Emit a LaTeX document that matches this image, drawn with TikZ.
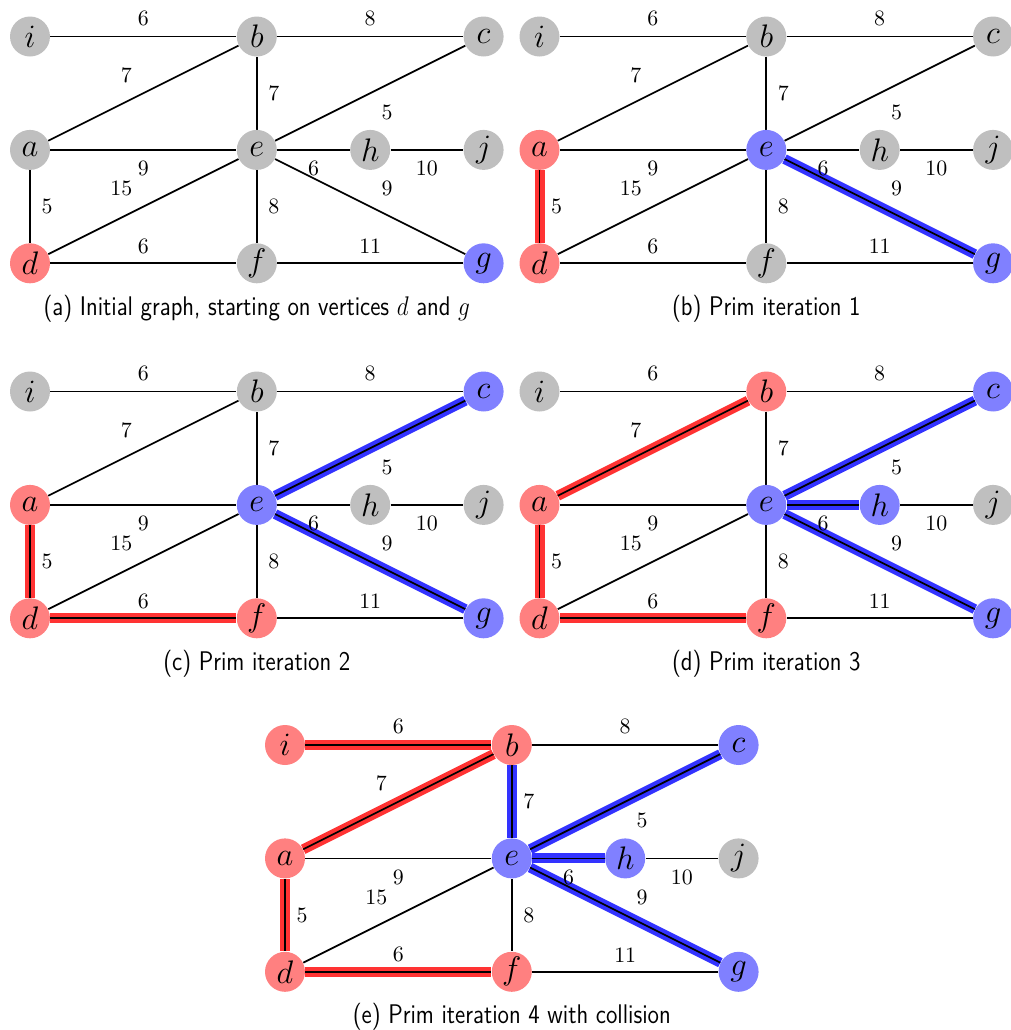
\RequirePackage{fix-cm}
\documentclass[tikz,border=0pt]{standalone}
\usepackage{fontspec}
\usepackage{graphicx}
\pgfdeclarelayer{background}
\pgfsetlayers{background,main}
\tikzset{
  vtx/.style={circle, minimum size=20pt, inner sep=0pt, font=\fontsize{16.3}{18}\selectfont},
  gn/.style={fill=gray!50}, rn/.style={fill=red!50}, bn/.style={fill=blue!50},
  c-i/.style=gn, c-b/.style=gn, c-c/.style=gn, c-a/.style=gn, c-e/.style=gn,
  c-h/.style=gn, c-j/.style=gn, c-d/.style=gn, c-f/.style=gn, c-g/.style=gn,
  edge/.style={line width=0.85pt, black},
  hlr/.style={line width=5pt, red!80},
  hlb/.style={line width=5pt, blue!80},
  lab/.style={inner sep=0pt, font=\fontsize{10.95}{12}\selectfont},
  off/.style 2 args={xshift={(#1)*0.5pt}, yshift={-(#2)*0.5pt}},
  captext/.style={font=\sffamily\fontsize{12.6}{15}\selectfont, inner sep=0pt},
}
\newcommand\hlEdge[3]{\draw[#3] (\P#1) -- (\P#2);}
\newcommand\mkgraph[5]{%
  \def\P{#1}%
  \node[vtx,c-i] (#1i) at (#2,#3) {$i$};
  \node[vtx,c-b] (#1b) at (#2+226.8,#3) {$b$};
  \node[vtx,c-c] (#1c) at (#2+453.6,#3) {$c$};
  \node[vtx,c-a] (#1a) at (#2,#3+113.4) {$a$};
  \node[vtx,c-e] (#1e) at (#2+226.8,#3+113.4) {$e$};
  \node[vtx,c-h] (#1h) at (#2+340.2,#3+113.4) {$h$};
  \node[vtx,c-j] (#1j) at (#2+453.6,#3+113.4) {$j$};
  \node[vtx,c-d] (#1d) at (#2,#3+226.8) {$d$};
  \node[vtx,c-f] (#1f) at (#2+226.8,#3+226.8) {$f$};
  \node[vtx,c-g] (#1g) at (#2+453.6,#3+226.8) {$g$};
  \node[captext] (#1cap) at (#2+226.8,#3+272) {\scalebox{0.925}[1.07]{#5}};
  \begin{pgfonlayer}{background}
    #4
    \draw[edge] (#1i) -- node[lab,off={0}{-18.5}]{6} (#1b);
    \draw[edge] (#1b) -- node[lab,off={0}{-18.5}]{8} (#1c);
    \draw[edge] (#1a) -- node[lab,off={-17}{-18}]{7} (#1b);
    \draw[edge] (#1b) -- node[lab,off={17}{0}]{7} (#1e);
    \draw[edge] (#1e) -- node[lab,off={17}{19}]{5} (#1c);
    \draw[edge] (#1a) -- node[lab,off={0}{19}]{9} (#1e);
    \draw[edge] (#1d) -- node[lab,off={-22}{-18}]{15} (#1e);
    \draw[edge] (#1e) -- node[lab,off={0}{19}]{6} (#1h);
    \draw[edge] (#1h) -- node[lab,off={0}{19}]{10} (#1j);
    \draw[edge] (#1e) -- node[lab,off={17}{-18}]{9} (#1g);
    \draw[edge] (#1a) -- node[lab,off={17}{0}]{5} (#1d);
    \draw[edge] (#1e) -- node[lab,off={17}{0}]{8} (#1f);
    \draw[edge] (#1d) -- node[lab,off={0}{-17}]{6} (#1f);
    \draw[edge] (#1f) -- node[lab,off={0}{-17}]{11} (#1g);
  \end{pgfonlayer}
}
\begin{document}
\begin{tikzpicture}[x=0.5pt, y=-0.5pt]
\useasboundingbox (0,0) rectangle (1011,1030);
\begin{scope}
  \tikzset{c-d/.style=rn, c-g/.style=bn}
  \mkgraph{A}{30}{36.5}{}{(a) Initial graph, starting on vertices $d$ and $g$}
\end{scope}
\begin{scope}
  \tikzset{c-a/.style=rn, c-d/.style=rn, c-e/.style=bn, c-g/.style=bn}
  \mkgraph{B}{539.5}{36.5}{\hlEdge{a}{d}{hlr}\hlEdge{e}{g}{hlb}}{(b) Prim iteration 1}
\end{scope}
\begin{scope}
  \tikzset{c-a/.style=rn, c-d/.style=rn, c-f/.style=rn, c-e/.style=bn, c-g/.style=bn, c-c/.style=bn}
  \mkgraph{C}{30}{391.5}{\hlEdge{a}{d}{hlr}\hlEdge{d}{f}{hlr}\hlEdge{e}{g}{hlb}\hlEdge{e}{c}{hlb}}{(c) Prim iteration 2}
\end{scope}
\begin{scope}
  \tikzset{c-a/.style=rn, c-d/.style=rn, c-f/.style=rn, c-b/.style=rn, c-e/.style=bn, c-g/.style=bn, c-c/.style=bn, c-h/.style=bn}
  \mkgraph{D}{539.5}{391.5}{\hlEdge{a}{d}{hlr}\hlEdge{d}{f}{hlr}\hlEdge{a}{b}{hlr}\hlEdge{e}{g}{hlb}\hlEdge{e}{c}{hlb}\hlEdge{e}{h}{hlb}}{(d) Prim iteration 3}
\end{scope}
\begin{scope}
  \tikzset{c-i/.style=rn, c-a/.style=rn, c-d/.style=rn, c-f/.style=rn, c-b/.style=rn, c-e/.style=bn, c-g/.style=bn, c-c/.style=bn, c-h/.style=bn}
  \mkgraph{E}{285}{745}{\hlEdge{a}{d}{hlr}\hlEdge{d}{f}{hlr}\hlEdge{a}{b}{hlr}\hlEdge{i}{b}{hlr}\hlEdge{e}{g}{hlb}\hlEdge{e}{c}{hlb}\hlEdge{e}{h}{hlb}\hlEdge{b}{e}{hlb}}{(e) Prim iteration 4 with collision}
\end{scope}
\end{tikzpicture}
\end{document}
